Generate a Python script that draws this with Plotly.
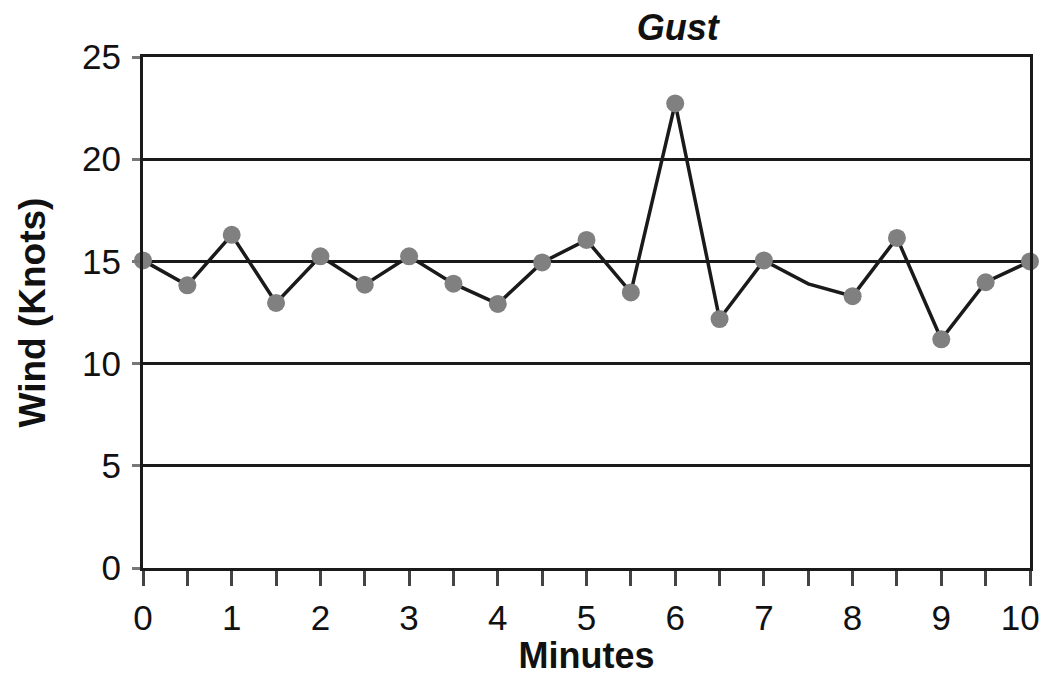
import plotly.graph_objects as go

minutes = [0, 0.5, 1, 1.5, 2, 2.5, 3, 3.5, 4, 4.5, 5, 5.5, 6, 6.5, 7, 7.5, 8, 8.5, 9, 9.5, 10]
wind = [15.05, 13.83, 16.3, 12.97, 15.25, 13.86, 15.25, 13.91, 12.92, 14.95, 16.05, 13.48,
        22.73, 12.18, 15.05, 13.9, 13.3, 16.15, 11.19, 13.98, 15.0]
has_marker = [1, 1, 1, 1, 1, 1, 1, 1, 1, 1, 1, 1, 1, 1, 1, 0, 1, 1, 1, 1, 1]

x_tickvals = [i * 0.5 for i in range(21)]
x_ticktext = [str(int(v)) if v == int(v) else "" for v in x_tickvals]
x_ticktext[-1] = "10\u00a0\u00a0"  # keep the last label inside the visible window
y_tickvals = [0, 5, 10, 15, 20, 25]

font_family = "Liberation Sans, Arial, sans-serif"

fig = go.Figure()
fig.add_trace(go.Scatter(
    x=minutes, y=wind, mode="lines",
    line=dict(color="#1a1a1a", width=3.5),
    cliponaxis=False, showlegend=False, hoverinfo="skip",
))
mx = [m for m, h in zip(minutes, has_marker) if h]
my = [w for w, h in zip(wind, has_marker) if h]
fig.add_trace(go.Scatter(
    x=mx, y=my, mode="markers",
    marker=dict(color="#808080", size=18),
    cliponaxis=False, showlegend=False,
))

fig.update_layout(
    width=1040, height=668,
    margin=dict(l=135, r=18, t=49, b=108),
    paper_bgcolor="white", plot_bgcolor="white",
    font=dict(family=font_family, color="#111", size=35),
    title=dict(text="<b><i>Gust</i></b>", x=0.603, xref="paper", xanchor="center",
               y=1 - 19 / 668, yref="container", yanchor="middle",
               font=dict(size=36, family=font_family, color="#111")),
    xaxis=dict(
        range=[0, 10], tickvals=x_tickvals, ticktext=x_ticktext,
        ticks="outside", ticklen=15, tickwidth=2.5, tickcolor="#444",
        showline=True, linecolor="#1a1a1a", linewidth=3, mirror=True,
        showgrid=False, zeroline=False, automargin=False,
        tickfont=dict(size=35), ticklabelstandoff=2, ticklabeloverflow="allow",
        title=dict(text="<b>Minutes</b>", font=dict(size=36), standoff=10),
    ),
    yaxis=dict(
        range=[0, 25], tickvals=y_tickvals,
        ticks="outside", ticklen=8, tickwidth=2.5, tickcolor="#777",
        showline=True, linecolor="#1a1a1a", linewidth=3, mirror=True,
        showgrid=True, gridcolor="#1a1a1a", gridwidth=2.5, zeroline=False,
        automargin=False,
        tickfont=dict(size=35), ticklabelstandoff=4,
        title=dict(text="<b>Wind (Knots)</b>", font=dict(size=37), standoff=26),
    ),
)

fig.write_html("out.html")
